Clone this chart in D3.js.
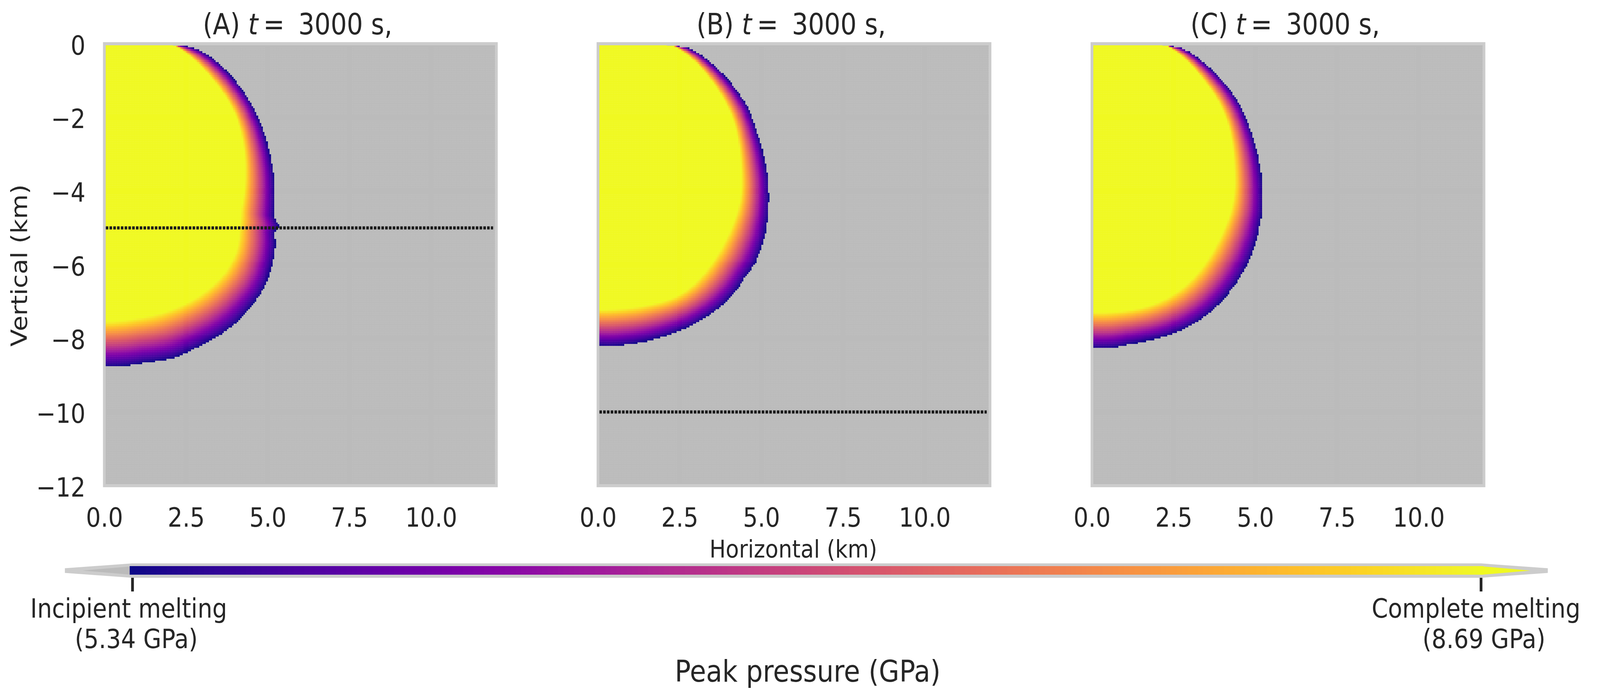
<!DOCTYPE html>
<html>
<head>
<meta charset="utf-8">
<script src="https://cdn.jsdelivr.net/npm/d3@7"></script>
<style>
  html, body { margin: 0; background: white; overflow: hidden; }
  text { font-family: "DejaVu Sans"; fill: #262626; }
</style>
</head>
<body>
<div id="chart"></div>
<script>
const panelNames = ["(A)", "(B)", "(C)"];
const xTicks = [0, 2.5, 5, 7.5, 10];
const yTicks = [0, -2, -4, -6, -8, -10, -12];
const dottedDepth = [-5, -10, null];
const pressureTicks = [5.34, 8.69];

// contours: horizontal km, depth km
const outerAx = [2.14, 2.52, 2.89, 3.32, 3.83, 4.16, 4.54, 4.82, 5.0, 5.12, 5.19, 5.19, 5.35, 5.24, 5.21, 5.24, 5.19, 5.12, 5.0, 4.79, 4.54, 4.07, 3.6, 3.13, 2.66, 2.19, 1.72, 1.25, 0.5, 0];
const outerAd = [0.04, 0.07, 0.17, 0.40, 0.82, 1.18, 1.70, 2.25, 2.75, 3.21, 3.59, 4.68, 4.97, 5.05, 5.17, 5.46, 5.79, 6.07, 6.40, 6.78, 7.07, 7.54, 7.87, 8.11, 8.32, 8.51, 8.60, 8.65, 8.75, 8.76];
const innerAx = [2.19, 2.52, 2.89, 3.36, 3.78, 4.07, 4.21, 4.3, 4.26, 4.11, 4.14, 4.14, 3.93, 3.6, 3.13, 2.66, 2.19, 1.25, 0.78, 0];
const innerAd = [0.07, 0.24, 0.57, 1.03, 1.54, 2.04, 2.58, 3.21, 4.05, 4.80, 5.10, 5.32, 5.88, 6.31, 6.69, 6.97, 7.16, 7.40, 7.47, 7.54];

const outerBx = [2.15, 2.74, 3.11, 3.82, 4.19, 4.57, 4.85, 5.04, 5.13, 5.20, 5.20, 5.15, 5.11, 4.99, 4.80, 4.52, 4.19, 3.72, 3.26, 2.79, 2.32, 1.85, 1.29, 0.86, 0];
const outerBd = [0.04, 0.11, 0.28, 0.82, 1.20, 1.70, 2.37, 2.92, 3.29, 3.63, 4.68, 4.97, 5.22, 5.55, 5.98, 6.31, 6.74, 7.16, 7.44, 7.68, 7.85, 7.99, 8.11, 8.17, 8.20];
const innerBx = [2.32, 2.74, 3.26, 3.72, 4.05, 4.24, 4.33, 4.38, 4.36, 4.18, 3.95, 3.54, 3.16, 2.79, 2.32, 1.85, 1.38, 0.68, 0];
const innerBd = [0.07, 0.28, 0.78, 1.33, 1.87, 2.37, 3.0, 3.63, 4.26, 4.76, 5.22, 5.88, 6.31, 6.64, 6.90, 7.02, 7.11, 7.18, 7.21];

const outerCx = [2.16, 2.72, 3.05, 3.75, 4.18, 4.55, 4.83, 5.07, 5.16, 5.21, 5.21, 5.14, 5.07, 4.97, 4.79, 4.51, 4.13, 3.66, 3.19, 2.72, 2.25, 1.69, 1.13, 0.73, 0];
const outerCd = [0.04, 0.11, 0.26, 0.78, 1.20, 1.70, 2.29, 3.0, 3.42, 3.84, 4.55, 4.89, 5.22, 5.50, 5.93, 6.36, 6.83, 7.26, 7.56, 7.78, 7.94, 8.06, 8.16, 8.24, 8.26];
const innerCx = [2.30, 2.72, 3.24, 3.71, 4.04, 4.22, 4.32, 4.36, 4.34, 4.16, 3.93, 3.52, 3.14, 2.68, 2.21, 1.55, 0.85, 0];
const innerCd = [0.07, 0.28, 0.82, 1.33, 1.87, 2.37, 3.0, 3.63, 4.26, 4.76, 5.22, 5.88, 6.31, 6.69, 6.94, 7.16, 7.25, 7.28];

const outerX = [outerAx, outerBx, outerCx];
const outerD = [outerAd, outerBd, outerCd];
const innerX = [innerAx, innerBx, innerCx];
const innerD = [innerAd, innerBd, innerCd];

const width = 4661;
const height = 1793;
const panelLeft = [304, 1742, 3181];
const panelWidth = 1142;
const plotTop = 112;
const plotBottom = 1244;
const nCells = 240;
const ink = "#262626";
const spine = "#cccccc";
const gray = "#bbbbbb";

const svg = d3.select("#chart").append("svg")
  .attr("viewBox", [0, 0, width, height])
  .attr("preserveAspectRatio", "none")
  .style("display", "block")
  .style("width", "100vw")
  .style("height", "100vh");

const y = d3.scaleLinear().domain([0, -12]).range([plotTop, plotBottom]);
const color = d3.scaleSequential(d3.interpolatePlasma).domain(pressureTicks);

// contour as radius against angle round a point on the axis of the melt body
const midDepth = 4.3;
function polar(xs, ds) {
  const pts = xs.map((x, i) => ({
    a: Math.atan2(ds[i] - midDepth, x),
    r: Math.hypot(x, ds[i] - midDepth)
  })).sort((p, q) => p.a - q.a);
  return d3.scaleLinear().domain(pts.map((p) => p.a)).range(pts.map((p) => p.r)).clamp(true);
}

function drawPanel(i) {
  const left = panelLeft[i];
  const x = d3.scaleLinear().domain([0, 12]).range([left, left + panelWidth]);
  const g = svg.append("g").attr("class", "panel");

  g.append("rect")
    .attr("x", left)
    .attr("y", plotTop)
    .attr("width", panelWidth)
    .attr("height", plotBottom - plotTop)
    .attr("fill", gray);

  // cells of the melted part
  const rOut = polar(outerX[i], outerD[i]);
  const rIn = polar(innerX[i], innerD[i]);
  const rInSoft = (a) => (rIn(a - 0.08) + rIn(a) + rIn(a + 0.08)) / 3;
  const cellKm = 12 / nCells;
  const cells = [];
  for (let c = 0; c < nCells; c++) {
    for (let r = 0; r < nCells; r++) {
      const cx = (c + 0.5) * cellKm;
      const cd = (r + 0.5) * cellKm;
      const a = Math.atan2(cd - midDepth, cx);
      const dist = Math.hypot(cx, cd - midDepth);
      const ro = rOut(a);
      const ri = rInSoft(a);
      if (dist > ro) continue;
      const t = ri >= ro ? 1 : Math.min(1, Math.max(0, (ro - dist) / (ro - ri)));
      cells.push({ c, r, p: pressureTicks[0] + t * (pressureTicks[1] - pressureTicks[0]) });
    }
  }
  g.append("g")
    .attr("shape-rendering", "crispEdges")
    .selectAll("rect")
    .data(cells)
    .join("rect")
    .attr("x", (d) => x(d.c * cellKm))
    .attr("y", (d) => y(-d.r * cellKm))
    .attr("width", x(cellKm) - x(0) + 0.4)
    .attr("height", y(-cellKm) - y(0) + 0.4)
    .attr("fill", (d) => color(d.p));

  // light specks where mesh cells meet, missing along the grid lines
  let specks = "";
  const nearGrid = (px, ticks, sc) => ticks.some((t) => Math.abs(sc(t) - px) < 5);
  for (let c = 1; c < nCells; c++) {
    const px = x(c * cellKm);
    if (nearGrid(px, xTicks, x)) continue;
    for (let r = 1; r < nCells; r++) {
      const py = y(-r * cellKm);
      if (nearGrid(py, yTicks, y)) continue;
      specks += `M${(px - 0.7).toFixed(1)},${(py - 0.7).toFixed(1)}h1.4v1.4h-1.4z`;
    }
  }
  g.append("path").attr("d", specks).attr("fill", "white").attr("fill-opacity", 0.22);

  if (dottedDepth[i] !== null) {
    g.append("line")
      .attr("x1", x(0))
      .attr("x2", x(11.9))
      .attr("y1", y(dottedDepth[i]))
      .attr("y2", y(dottedDepth[i]))
      .attr("stroke", "#1a1a1a")
      .attr("stroke-width", 8)
      .attr("stroke-dasharray", "7.5 3.5")
      .attr("stroke-dashoffset", 7);
  }

  g.append("rect")
    .attr("x", left)
    .attr("y", plotTop)
    .attr("width", panelWidth)
    .attr("height", plotBottom - plotTop)
    .attr("fill", "none")
    .attr("stroke", spine)
    .attr("stroke-width", 8);

  const xAxis = d3.axisBottom(x).tickValues(xTicks).tickFormat(d3.format(".1f")).tickSize(0);
  g.append("g")
    .attr("transform", `translate(0,${plotBottom})`)
    .call(xAxis)
    .call((s) => s.select(".domain").remove())
    .selectAll("text")
    .attr("y", 105)
    .attr("dy", 0)
    .attr("font-size", 68)
    .attr("fill", ink);

  if (i === 0) {
    const yAxis = d3.axisLeft(y).tickValues(yTicks).tickSize(0);
    g.append("g")
      .attr("transform", `translate(${left},0)`)
      .call(yAxis)
      .call((s) => s.select(".domain").remove())
      .selectAll("text")
      .attr("x", -55)
      .attr("dy", 27)
      .attr("font-size", 68)
      .attr("fill", ink);
  }

  const titleX = left + 287;
  const title = g.append("text").attr("y", 88).attr("font-size", 74).attr("fill", ink);
  title.append("tspan").attr("x", titleX).text(panelNames[i]);
  title.append("tspan").attr("x", titleX + 132).attr("font-style", "italic").text("t");
  title.append("tspan").attr("x", titleX + 176).text("=");
  title.append("tspan").attr("x", titleX + 278).text("3000 s,");
}

panelNames.forEach((d, i) => drawPanel(i));

svg.append("text")
  .attr("transform", "translate(79,680) rotate(-90)")
  .attr("text-anchor", "middle")
  .attr("font-size", 65)
  .attr("fill", ink)
  .text("Vertical (km)");

svg.append("text")
  .attr("x", 2311)
  .attr("y", 1428)
  .attr("text-anchor", "middle")
  .attr("font-size", 63)
  .attr("fill", ink)
  .text("Horizontal (km)");

// colour bar
const barX = d3.scaleLinear().domain(pressureTicks).range([385.5, 4314]);
const barTop = 1450.4;
const barBottom = 1472.3;
const barMid = 1461.4;
const cb = svg.append("g").attr("class", "colorbar");

cb.append("path")
  .attr("d", `M${barX(5.34)},1443 L189,1455.5 V1467.5 L${barX(5.34)},1480 H${barX(8.69)} L4509,1467.5 V1455.5 L${barX(8.69)},1443 Z`)
  .attr("fill", spine);

cb.append("path")
  .attr("d", `M${barX(5.34)},${barTop} L240,${barMid} L${barX(5.34)},${barBottom} Z`)
  .attr("fill", gray);

cb.append("path")
  .attr("d", `M${barX(8.69)},${barTop} L4458,${barMid} L${barX(8.69)},${barBottom} Z`)
  .attr("fill", color(8.69));

const levels = d3.range(256).map((k) => pressureTicks[0] + (k / 255) * (pressureTicks[1] - pressureTicks[0]));
const levelW = (barX(8.69) - barX(5.34)) / 255;
cb.append("g")
  .attr("shape-rendering", "crispEdges")
  .selectAll("rect")
  .data(levels)
  .join("rect")
  .attr("x", (d) => barX(d) - levelW / 2)
  .attr("y", barTop)
  .attr("width", levelW + 0.5)
  .attr("height", barBottom - barTop)
  .attr("fill", (d) => color(d));

const barAxis = d3.axisBottom(barX).tickValues(pressureTicks).tickSize(35).tickFormat("");
cb.append("g")
  .attr("transform", "translate(0,1480)")
  .call(barAxis)
  .call((s) => s.select(".domain").remove())
  .selectAll("line")
  .attr("stroke", ink)
  .attr("stroke-width", 8);

const barLabels = [
  { text: "Incipient melting", x: 375, y: 1582 },
  { text: "(5.34 GPa)", x: 397, y: 1660 },
  { text: "Complete melting", x: 4300, y: 1582 },
  { text: "(8.69 GPa)", x: 4323, y: 1660 }
];
cb.selectAll("text.barlabel")
  .data(barLabels)
  .join("text")
  .attr("class", "barlabel")
  .attr("x", (d) => d.x)
  .attr("y", (d) => d.y)
  .attr("text-anchor", "middle")
  .attr("font-size", 68)
  .attr("fill", ink)
  .text((d) => d.text);

svg.append("text")
  .attr("x", 2353)
  .attr("y", 1746)
  .attr("text-anchor", "middle")
  .attr("font-size", 77)
  .attr("fill", ink)
  .text("Peak pressure (GPa)");
</script>
</body>
</html>
